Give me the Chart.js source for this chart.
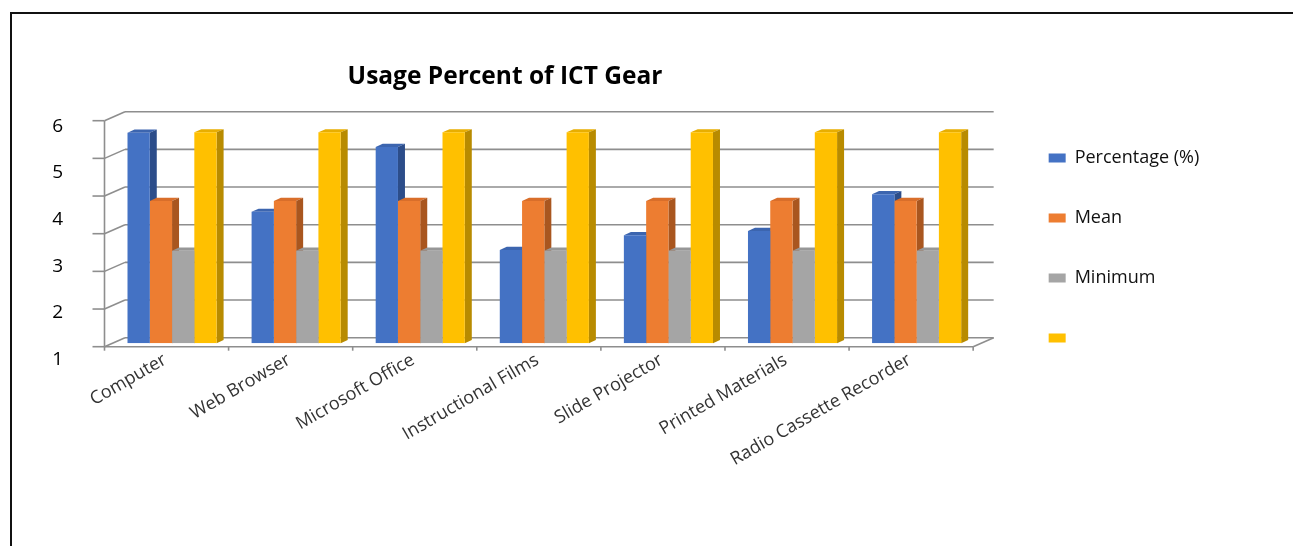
<!DOCTYPE html>
<html>
<head>
<meta charset="utf-8">
<script src="https://cdn.jsdelivr.net/npm/chart.js@4.4.1/dist/chart.umd.min.js"></script>
<style>
  body { margin: 0; background: #fff; overflow: hidden; }
  #wrap { position: absolute; left: 0; top: 0; width: 1293px; height: 546px; }
  #frame { position: absolute; left: 10px; top: 12px; width: 2000px; height: 2000px;
           border-left: 2px solid #111; border-top: 2px solid #111; pointer-events: none; }
</style>
</head>
<body>
<div id="wrap"><canvas id="ictChart"></canvas></div>
<div id="frame"></div>
<script>
// chart values
const categories = ['Computer', 'Web Browser', 'Microsoft Office', 'Instructional Films',
                    'Slide Projector', 'Printed Materials', 'Radio Cassette Recorder'];
const percentage = [5.59, 3.49, 5.21, 2.48, 2.87, 2.98, 3.96];
const mean = [3.78, 3.78, 3.78, 3.78, 3.78, 3.78, 3.78];
const minimum = [2.46, 2.46, 2.46, 2.46, 2.46, 2.46, 2.46];
const maximum = [5.6, 5.6, 5.6, 5.6, 5.6, 5.6, 5.6];
const seriesNames = ['Percentage (%)', 'Mean', 'Minimum', ''];
const yTickLabels = [1, 2, 3, 4, 5, 6];

// colours: front, top face, side face
const frontColors = ['#4472C4', '#ED7D31', '#A5A5A5', '#FFC000'];
const topColors = ['#3C65AF', '#D96E2A', '#979797', '#E8AE00'];
const sideColors = ['#2C4D8A', '#A9561F', '#767676', '#B88B00'];

// 3D offsets relative to the plane the bars are drawn on
const barDepth = { dx: 7, dy: -3.2 };
const frontPlane = { dx: -5.5, dy: 3.4 };
const backWall = { dx: 15, dy: -5.6 };
const gridColor = '#8E8E8E';

function line(ctx, x1, y1, x2, y2) {
    ctx.beginPath();
    ctx.moveTo(x1, y1);
    ctx.lineTo(x2, y2);
    ctx.stroke();
}

const box3d = {
    id: 'box3d',
    afterLayout(chart) {
        // Excel centred the title over the plot, not over the whole canvas
        chart.titleBlock.left = 0;
        chart.titleBlock.right = 1010;
    },
    beforeDatasetsDraw(chart) {
        const ctx = chart.ctx;
        const area = chart.chartArea;
        const yScale = chart.scales.y;
        const xScale = chart.scales.x;
        ctx.save();
        ctx.strokeStyle = gridColor;
        ctx.lineWidth = 1.6;

        const fl = area.left + frontPlane.dx;
        const bl = area.left + backWall.dx;
        const br = area.right + backWall.dx;
        const fr = area.right + frontPlane.dx;

        // back wall gridlines, side wall lines and the front axis ticks
        yScale.ticks.forEach(t => {
            const py = yScale.getPixelForValue(t.value);
            line(ctx, fl, py + frontPlane.dy, bl, py + backWall.dy);
            line(ctx, bl, py + backWall.dy, br, py + backWall.dy);
            line(ctx, fl - 12, py + frontPlane.dy, fl, py + frontPlane.dy);
        });
        const y0 = yScale.getPixelForValue(0);
        const y6 = yScale.getPixelForValue(6);
        line(ctx, fl, y6 + frontPlane.dy, fl, y0 + frontPlane.dy);

        // floor edges
        line(ctx, fl, y0 + frontPlane.dy, fr, y0 + frontPlane.dy);
        line(ctx, fr, y0 + frontPlane.dy, br, y0 + backWall.dy);
        for (let k = 0; k <= categories.length; k++) {
            const px = xScale.getPixelForValue(k - 0.5) + frontPlane.dx;
            line(ctx, px, y0 + frontPlane.dy, px, y0 + frontPlane.dy + 4);
        }

        // top and side faces; the fronts are drawn by Chart.js afterwards
        chart.data.datasets.forEach((ds, di) => {
            const meta = chart.getDatasetMeta(di);
            meta.data.forEach(bar => {
                const p = bar.getProps(['x', 'y', 'base', 'width'], true);
                const l = p.x - p.width / 2;
                const r = p.x + p.width / 2;
                ctx.fillStyle = topColors[di];
                ctx.beginPath();
                ctx.moveTo(l, p.y);
                ctx.lineTo(r, p.y);
                ctx.lineTo(r + barDepth.dx, p.y + barDepth.dy);
                ctx.lineTo(l + barDepth.dx, p.y + barDepth.dy);
                ctx.closePath();
                ctx.fill();
                ctx.fillStyle = sideColors[di];
                ctx.beginPath();
                ctx.moveTo(r, p.y);
                ctx.lineTo(r + barDepth.dx, p.y + barDepth.dy);
                ctx.lineTo(r + barDepth.dx, p.base + barDepth.dy);
                ctx.lineTo(r, p.base);
                ctx.closePath();
                ctx.fill();
            });
        });
        ctx.restore();
    }
};

const seriesValues = [percentage, mean, minimum, maximum];

new Chart(document.getElementById('ictChart'), {
    type: 'bar',
    data: {
        labels: categories,
        datasets: seriesValues.map((vals, i) => ({
            label: seriesNames[i],
            data: vals,
            backgroundColor: frontColors[i],
            borderWidth: 0,
            yAxisID: 'y'
        }))
    },
    options: {
        responsive: true,
        maintainAspectRatio: false,
        animation: false,
        datasets: { bar: { categoryPercentage: 0.718, barPercentage: 1 } },
        layout: { padding: { left: 0, top: 0, bottom: 0, right: 85 } },
        plugins: {
            title: {
                display: true,
                text: 'Usage Percent of ICT Gear',
                color: '#000',
                font: { family: 'Open Sans', size: 24.5, weight: 'bold' },
                padding: { top: 62, bottom: 25.9 }
            },
            legend: {
                position: 'right',
                align: 'start',
                title: { display: true, text: '', font: { size: 10 }, padding: { top: 95, bottom: 0 } },
                labels: {
                    boxWidth: 17,
                    boxHeight: 9,
                    padding: 42,
                    color: '#111',
                    font: { family: 'Open Sans', size: 18 }
                }
            },
            tooltip: { enabled: false }
        },
        scales: {
            x: {
                grid: { display: false, drawTicks: false },
                border: { display: false },
                ticks: {
                    minRotation: 30,
                    maxRotation: 30,
                    labelOffset: -7,
                    padding: 6,
                    color: '#333',
                    font: { family: 'Open Sans', size: 18 }
                },
                afterFit(s) { s.height = 202.7; }
            },
            y: {
                display: false,
                min: 0,
                max: 6,
                ticks: { stepSize: 1 }
            },
            yLabels: {
                position: 'left',
                min: 1.347,
                max: 6.193,
                grid: { display: false, drawTicks: false },
                border: { display: false },
                ticks: {
                    padding: 47,
                    color: '#000',
                    font: { family: 'Open Sans', size: 19 },
                    callback: v => String(v)
                },
                afterBuildTicks(s) { s.ticks = yTickLabels.map(v => ({ value: v })); },
                afterFit(s) { s.width = 110; }
            },
            spacer: {
                position: 'right',
                grid: { display: false, drawTicks: false },
                border: { display: false },
                ticks: { display: false },
                afterFit(s) { s.width = 28; }
            }
        }
    },
    plugins: [box3d]
});
</script>
</body>
</html>
